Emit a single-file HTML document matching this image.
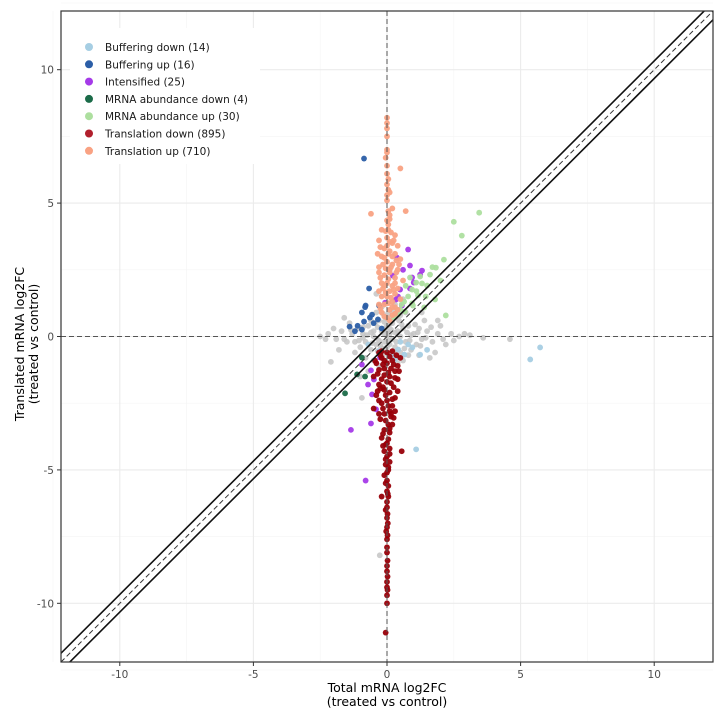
<!DOCTYPE html>
<html><head><meta charset="utf-8"><style>
body{margin:0;background:#fff;}
svg{display:block;font-family:"DejaVu Sans","Liberation Sans",sans-serif;}
</style></head><body>
<svg id="chart" width="720" height="720"></svg>
<script>
const xTicks=[-10,-5,0,5,10];
const yTicks=[-10,-5,0,5,10];
const minorTicks=[-12.5,-7.5,-2.5,2.5,7.5,12.5];
const categories=["Buffering down (14)","Buffering up (16)","Intensified (25)","MRNA abundance down (4)","MRNA abundance up (30)","Translation down (895)","Translation up (710)"];
const colors=["#a6cee3","#2b5ea7","#a53ae8","#1b6b49","#addf9f","#b11f2d","#f9a283"];
const grey=[[-2.5,0],[-2.2,0.1],[-1.9,-0.1],[-1.7,0.2],[-1.5,-0.2],[-1.3,0.1],[-1.1,0.3],[-1,-0.4],[-0.9,0.1],[-0.8,-0.2],[-0.7,0.4],[-0.6,-0.5],[-0.5,0.2],[-0.4,-0.3],[-0.3,0.6],[-0.2,-0.6],[-0.1,0.3],[0,0],[0.1,-0.3],[0.2,0.5],[0.3,-0.4],[0.4,0.2],[0.5,-0.6],[0.6,0.3],[0.7,-0.2],[0.8,0.4],[0.9,-0.5],[1,0.1],[1.1,-0.3],[1.2,0.3],[1.3,-0.1],[1.5,0.2],[1.7,-0.2],[1.9,0.1],[2.1,-0.1],[2.4,0.1],[2.7,0],[3.1,0.05],[3.6,-0.05],[4.6,-0.1],[-0.6,0.6],[-0.4,0.9],[-0.2,1.1],[0.3,1.2],[0.5,0.8],[0.7,0.9],[-0.5,-0.9],[-0.3,-1.1],[0.4,-1],[0.6,-0.9],[0.8,-0.7],[-0.8,-0.8],[-1.2,-0.6],[-1.4,0.5],[1.4,0.6],[1.2,-0.7],[-2.1,-0.95],[-1.8,-0.5],[1.8,-0.6],[2,0.4],[-0.2,0.2],[0.1,0.1],[0.2,-0.1],[-0.1,-0.2],[0,0.4],[0,-0.4],[0.15,0.7],[-0.15,-0.7],[0.3,0.15],[-0.3,-0.15],[0.5,0],[-0.5,0],[0.9,0.05],[-0.9,-0.05],[1.6,-0.8],[2.2,-0.3],[-2,0.3],[-0.27,-8.2],[-0.94,-2.3],[1.9,0.6],[-1.6,0.7],[-0.7,-1.3],[0.6,1.4],[-0.4,1.6],[-1,-1.5],[1.3,0.9],[-1.2,-0.2],[-0.9,0.35],[-0.6,0.15],[-0.35,0.35],[-0.1,0.55],[0.15,0.25],[0.35,-0.2],[0.55,0.45],[0.75,0.15],[1.05,0.45],[1.25,-0.35],[1.45,-0.05],[1.65,0.35],[0.25,-0.55],[-0.25,-0.35],[-0.55,-0.25],[-0.75,0.05],[-1.05,-0.15],[-1.35,0.25],[-1.6,-0.1],[0.05,0.85],[0.25,0.95],[-0.15,0.85],[0.45,0.6],[-0.45,0.5],[0.65,-0.45],[0.35,-0.75],[-0.35,-0.55],[-0.15,-0.45],[0.1,-0.6],[0.85,-0.15],[1.15,0.15],[2.5,-0.15],[2.9,0.1],[-2.3,-0.1],[0,0.2],[0.1,0.45],[-0.1,0.1],[0.05,-0.15]];
const bufDown=[[5.36,-0.86],[5.73,-0.41],[1.09,-4.23],[0.65,-0.68],[0.79,-0.3],[0.42,-0.49],[0.3,-0.86],[0.95,-0.41],[-0.7,-0.3],[1.24,-0.68],[0.5,-0.2],[-0.3,-0.55],[0.2,-0.7],[1.5,-0.5]];
const bufUp=[[-0.86,6.67],[-0.67,1.8],[-0.8,1.16],[-0.94,0.9],[-1.4,0.37],[-1.1,0.4],[-0.86,0.56],[-0.64,0.71],[-0.34,0.64],[-0.94,0.26],[-0.56,0.82],[-0.82,1.1],[-0.3,1.16],[-0.5,0.5],[-0.2,0.3],[-1.2,0.2]];
const intens=[[0.79,3.26],[0.86,2.66],[0.37,2.96],[0.94,2.21],[1.24,2.32],[1,2.02],[0.49,1.76],[0.41,1.5],[0.34,1.39],[0.56,1.16],[1.31,2.47],[-0.8,-5.4],[-1.35,-3.5],[-0.6,-3.26],[-0.56,-2.17],[-0.71,-1.8],[-0.49,-1.61],[-0.94,-1.05],[-0.26,-0.79],[-0.6,-1.27],[-0.41,-2.73],[0.86,1.8],[0.22,2.28],[-0.07,1.27],[0.6,2.5]];
const mDown=[[-1.57,-2.13],[-0.94,-0.79],[-1.12,-1.42],[-0.82,-1.5]];
const mUp=[[3.45,4.64],[2.5,4.3],[2.8,3.78],[2.13,2.88],[1.83,2.58],[1.24,2.25],[1.09,2.02],[0.94,1.76],[0.79,1.5],[0.64,1.31],[1.5,1.91],[0.94,1.24],[2.2,0.79],[1.39,1.09],[1.16,1.54],[0.86,2.21],[1.61,2.32],[0.49,1.01],[0.67,0.94],[0.97,1.16],[1.31,1.99],[1.8,1.39],[0.41,0.82],[0.26,0.71],[1.7,2.6],[1.1,1.7],[0.7,1.9],[0.55,1.2],[1.45,1.5],[2.0,2.1]];
const trDown=[[-0.3,-0.6],[0.35,-0.7],[-0.2,-0.8],[0.2,-0.9],[-0.4,-1],[0.4,-1.1],[0,-1],[-0.1,-1.2],[0.3,-1.3],[-0.35,-1.4],[0.1,-1.5],[-0.2,-1.6],[0.4,-1.6],[0,-1.7],[-0.3,-1.8],[0.25,-1.9],[-0.1,-2],[0.1,-2.1],[-0.4,-2.2],[0.3,-2.3],[0,-2.4],[-0.2,-2.5],[0.2,-2.6],[-0.5,-2.7],[0.1,-2.8],[-0.1,-2.9],[0.15,-3],[-0.25,-3.1],[0.05,-3.3],[-0.1,-3.5],[0.1,-3.6],[-0.2,-3.8],[0,-4],[0.1,-4.2],[-0.1,-4.3],[0.55,-4.3],[0,-4.5],[-0.05,-4.8],[0.05,-5],[-0.1,-5.2],[0,-5.4],[0.05,-5.6],[-0.2,-6],[0,-6.2],[-0.05,-6.5],[0,-6.8],[0.03,-7],[-0.03,-7.3],[0,-7.6],[0,-7.9],[0.02,-8.4],[0,-8.8],[0,-9.2],[0.02,-9.5],[0,-9.7],[0,-10],[-0.05,-11.1],[-0.5,-1.5],[0.5,-0.8],[-0.3,-2.9],[0.3,-2.8],[0.2,-3.3],[-0.15,-4.1],[0.1,-4.7],[0.45,-1.3],[-0.45,-0.9],[0.15,-1.2],[-0.15,-1.9],[0.05,-6],[0,-5.8],[-0.25,-0.7],[0.1,-0.75],[0.25,-1.05],[-0.15,-1.05],[0.05,-1.35],[-0.3,-1.25],[0.3,-1.55],[-0.1,-1.45],[0.15,-1.75],[-0.25,-1.95],[0.4,-2.05],[-0.05,-2.2],[0.2,-2.35],[-0.3,-2.4],[0.05,-2.6],[-0.15,-2.7],[0.25,-3.05],[-0.05,-3.15],[0.1,-3.45],[-0.15,-3.65],[0.05,-3.85],[-0.05,-4.05],[0.1,-4.4],[-0.05,-4.6],[0.05,-4.9],[0,-5.1],[-0.05,-5.5],[0.03,-5.9],[0,-6.4],[0.02,-6.65],[0,-7.15],[0.02,-7.45],[0,-8.1],[0,-8.6],[0.02,-9],[0,-9.4],[-0.2,-0.55],[0.2,-0.55],[0,-0.6],[-0.1,-0.9],[0.15,-2.9],[-0.35,-2.05]];
const trUp=[[0,8.2],[0,8],[0,7.5],[0,7],[-0.05,6.7],[0,6.4],[0.5,6.3],[0.05,5.9],[0,5.7],[0.1,5.4],[0,5.1],[0.2,4.8],[0.7,4.7],[-0.6,4.6],[0.1,4.4],[0.05,4.2],[-0.2,4],[0.3,3.8],[0,3.7],[-0.3,3.6],[0.2,3.5],[0.4,3.4],[-0.1,3.3],[0.1,3.2],[0.3,3.1],[-0.2,3],[0.5,2.9],[0,2.8],[0.2,2.7],[-0.3,2.6],[0.4,2.5],[0.1,2.4],[-0.1,2.3],[0.3,2.2],[0.6,2.1],[0,2],[-0.2,2],[0.2,1.9],[0.4,1.8],[-0.3,1.7],[0.1,1.7],[0.3,1.6],[0,1.5],[-0.2,1.5],[0.5,1.4],[0.2,1.3],[-0.1,1.2],[0.3,1.1],[0.1,1],[-0.2,0.9],[0.2,0.8],[0,0.7],[0.4,1],[-0.3,1.2],[0.1,2.5],[0.2,3],[0,3.4],[-0.1,1.9],[0.35,2.4],[0.15,1.45],[-0.25,2.2],[0.45,2.7],[-0.15,2.7],[0.25,3.6],[-0.35,3.1],[0.05,4.7],[0.15,3.9],[-0.1,0.75],[0.1,0.6],[0.3,0.85],[-0.25,1.05],[0.05,1.25],[0.2,1.1],[-0.05,1.65],[0.25,1.75],[-0.15,1.8],[0.05,2.15],[0.3,2.0],[-0.3,2.4],[0.15,2.6],[-0.05,2.55],[0.35,2.85],[-0.1,2.95],[0.05,3.1],[-0.25,3.35],[0.1,3.55],[-0.05,3.95],[0.05,4.0],[0,4.35],[0.1,4.55],[0,5.3],[0.05,5.5],[0,6.1],[0,6.9],[0,7.8]];
const series=[grey,bufDown,bufUp,intens,mDown,mUp,trDown,trUp];
const seriesCol=["#c4c4c4",colors[0],colors[1],colors[2],colors[3],colors[4],"#980008",colors[6]];
const seriesNames=["unchanged","buffering-down","buffering-up","intensified","mrna-abundance-down","mrna-abundance-up","translation-down","translation-up"];

const NS="http://www.w3.org/2000/svg";
const svg=document.getElementById("chart");
const L=61,R=713,T=11,B=662,lo=-12.2,hi=12.2;
const sx=v=>L+(v-lo)/(hi-lo)*(R-L);
const sy=v=>B-(v-lo)/(hi-lo)*(B-T);
function el(tag,attrs,parent){const e=document.createElementNS(NS,tag);for(const k in attrs)e.setAttribute(k,attrs[k]);(parent||svg).appendChild(e);return e;}
const defs=el("defs",{});const cp=el("clipPath",{id:"clip"},defs);el("rect",{x:L,y:T,width:R-L,height:B-T},cp);
const grid=el("g",{});


minorTicks.forEach(v=>{el("line",{x1:sx(v),x2:sx(v),y1:T,y2:B,stroke:"#f4f4f4","stroke-width":0.6},grid);el("line",{x1:L,x2:R,y1:sy(v),y2:sy(v),stroke:"#f4f4f4","stroke-width":0.6},grid);});
xTicks.forEach(v=>{el("line",{x1:sx(v),x2:sx(v),y1:T,y2:B,stroke:"#ebebeb","stroke-width":1.1},grid);});
yTicks.forEach(v=>{el("line",{x1:L,x2:R,y1:sy(v),y2:sy(v),stroke:"#ebebeb","stroke-width":1.1},grid);});
const pts=el("g",{"clip-path":"url(#clip)"});


series.forEach((s,i)=>{s.forEach(p=>{const c=el("circle",{cx:sx(p[0]),cy:sy(p[1]),r:2.9,fill:seriesCol[i],"fill-opacity":i==0?0.85:0.95},pts);

});});
const ref=el("g",{"clip-path":"url(#clip)"});


el("line",{x1:sx(0),x2:sx(0),y1:T,y2:B,stroke:"#555","stroke-width":1,"stroke-dasharray":"5,3"},ref);
el("line",{x1:L,x2:R,y1:sy(0),y2:sy(0),stroke:"#555","stroke-width":1,"stroke-dasharray":"5,3"},ref);
el("line",{x1:sx(lo),y1:sy(lo),x2:sx(hi),y2:sy(hi),stroke:"#333","stroke-width":1,"stroke-dasharray":"5,3"},ref);
[0.33,-0.33].forEach(o=>el("line",{x1:sx(lo),y1:sy(lo+o),x2:sx(hi),y2:sy(hi+o),stroke:"#111","stroke-width":1.6},ref));
const frame=el("rect",{x:L,y:T,width:R-L,height:B-T,fill:"none",stroke:"#333","stroke-width":1.2});


const ax=el("g",{"font-size":"10.5","fill":"#4d4d4d"});


xTicks.forEach(v=>{el("line",{x1:sx(v),x2:sx(v),y1:B,y2:B+4,stroke:"#333"},ax);const t=el("text",{x:sx(v),y:B+16,"text-anchor":"middle"},ax);t.textContent=v;

});
yTicks.forEach(v=>{el("line",{x1:L-4,x2:L,y1:sy(v),y2:sy(v),stroke:"#333"},ax);const t=el("text",{x:L-7,y:sy(v)+4,"text-anchor":"end"},ax);t.textContent=v;

});
const lg=el("g",{});


el("rect",{x:70,y:28,width:190,height:136,fill:"#fff"},lg);
categories.forEach((c,i)=>{const y=47+i*17.3;el("circle",{cx:89,cy:y,r:4,fill:colors[i]},lg);const t=el("text",{x:105,y:y+4,"font-size":"10.5",fill:"#1a1a1a"},lg);t.textContent=c;

});
</script>
<div style="position:absolute;left:0;top:681px;width:774px;text-align:center;font-family:'DejaVu Sans','Liberation Sans',sans-serif;font-size:12.5px;line-height:14px;color:#000">Total mRNA log2FC<br>(treated vs control)</div>
<div style="position:absolute;left:-173px;top:330px;width:400px;text-align:center;font-family:'DejaVu Sans','Liberation Sans',sans-serif;font-size:12.5px;line-height:14px;color:#000;transform:rotate(-90deg)">Translated mRNA log2FC<br>(treated vs control)</div>
</body></html>
